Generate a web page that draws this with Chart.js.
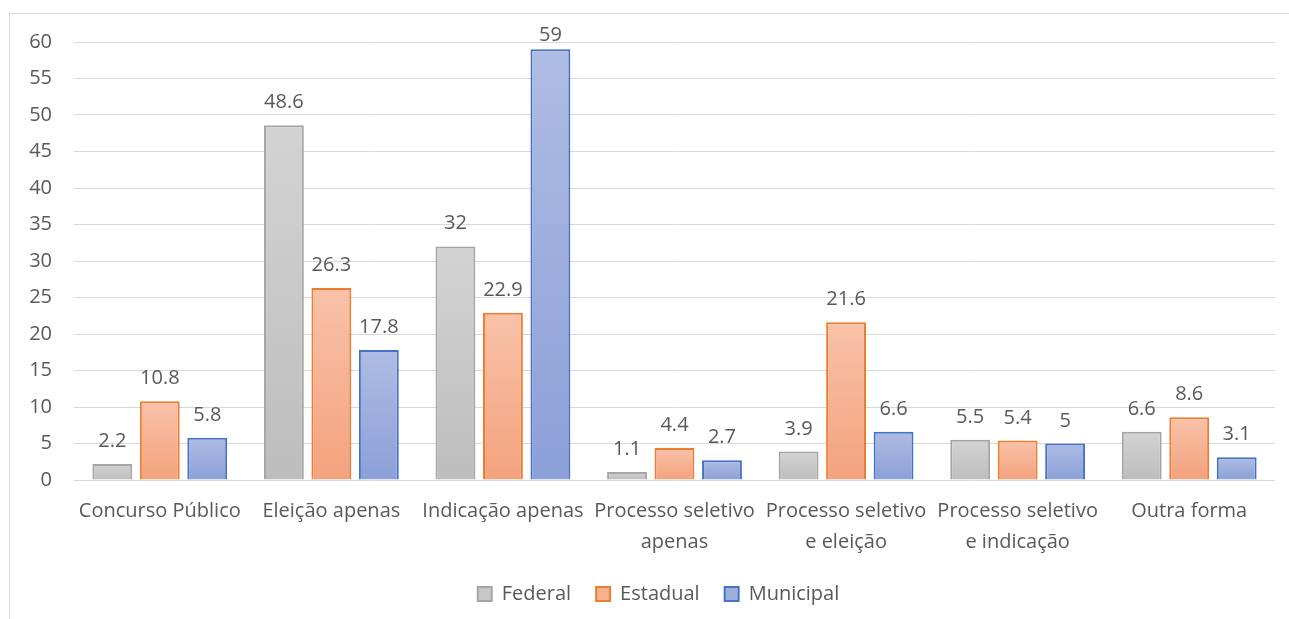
<!DOCTYPE html>
<html>
<head>
<meta charset="utf-8">
<script src="https://cdn.jsdelivr.net/npm/chart.js@4"></script>
<style>
  html, body { margin: 0; padding: 0; background: #ffffff; overflow: hidden; }
  #frame { position: absolute; left: 9px; top: 13px; width: 1400px; height: 700px; border: 1px solid #d9d9d9; box-sizing: border-box; }
  #wrap { position: absolute; left: 0; top: 0; width: 1289px; height: 619px; }
</style>
</head>
<body>
<div id="frame"></div>
<div id="wrap"><canvas id="c" width="1289" height="619"></canvas></div>
<script>
// Categories (multi-line labels are arrays)
const categories = [
  "Concurso Público",
  "Eleição apenas",
  "Indicação apenas",
  ["Processo seletivo", "apenas"],
  ["Processo seletivo", "e eleição"],
  ["Processo seletivo", "e indicação"],
  "Outra forma"
];
const seriesNames = ["Federal", "Estadual", "Municipal"];
const federal   = [2.2, 48.6, 32, 1.1, 3.9, 5.5, 6.6];
const estadual  = [10.8, 26.3, 22.9, 4.4, 21.6, 5.4, 8.6];
const municipal = [5.8, 17.8, 59, 2.7, 6.6, 5, 3.1];
const yTicks = [0, 5, 10, 15, 20, 25, 30, 35, 40, 45, 50, 55, 60];

const FONT = "'Open Sans', Lato, sans-serif";
const SIZE = 20;
const TEXT = "#595959";

// Vertical per-bar gradient, lighter at the top
function barGradient(top, bottom) {
  return function (ctx) {
    const chart = ctx.chart;
    const y = chart.scales && chart.scales.y;
    if (!y || ctx.raw === undefined || !chart.chartArea) return bottom;
    const y0 = y.getPixelForValue(ctx.raw);
    const y1 = y.getPixelForValue(0);
    if (!isFinite(y0) || !isFinite(y1) || y0 === y1) return bottom;
    const g = chart.ctx.createLinearGradient(0, y0, 0, y1);
    g.addColorStop(0, top);
    g.addColorStop(1, bottom);
    return g;
  };
}

// Value labels above each bar, kept inside the plot area
const valueLabels = {
  id: "valueLabels",
  afterDatasetsDraw(chart) {
    const c = chart.ctx;
    c.save();
    c.font = SIZE + "px " + FONT;
    c.fillStyle = TEXT;
    c.textAlign = "center";
    c.textBaseline = "alphabetic";
    chart.data.datasets.forEach((ds, di) => {
      chart.getDatasetMeta(di).data.forEach((bar, i) => {
        const base = Math.max(bar.y - 17, chart.chartArea.top - 1);
        c.fillText(String(ds.data[i]), bar.x, base);
      });
    });
    c.restore();
  }
};

// Nudge the legend row a little to the right of the canvas centre
const legendShift = {
  id: "legendShift",
  afterLayout(chart) {
    if (chart.legend) {
      chart.legend.left += 16;
      chart.legend.right += 16;
    }
  }
};

new Chart(document.getElementById("c"), {
  type: "bar",
  data: {
    labels: categories,
    datasets: [
      { label: seriesNames[0], data: federal,
        backgroundColor: barGradient("#d3d3d3", "#bdbdbd"), borderColor: "#a5a5a5", borderWidth: 2 },
      { label: seriesNames[1], data: estadual,
        backgroundColor: barGradient("#f8c2a9", "#f4a27d"), borderColor: "#ed7d31", borderWidth: 2 },
      { label: seriesNames[2], data: municipal,
        backgroundColor: barGradient("#afbce3", "#8ba0d8"), borderColor: "#4472c4", borderWidth: 2 }
    ]
  },
  options: {
    responsive: false,
    animation: false,
    devicePixelRatio: 1,
    layout: { padding: { top: 42, left: 10, right: 14, bottom: 5 } },
    datasets: { bar: { categoryPercentage: 0.83, barPercentage: 0.84 } },
    plugins: {
      tooltip: { enabled: false },
      legend: {
        position: "bottom",
        labels: {
          font: { family: FONT, size: SIZE },
          color: TEXT,
          boxWidth: 14,
          boxHeight: 14,
          padding: 25,
          generateLabels(chart) {
            const fills = ["#c8c8c8", "#f6b193", "#9dafdd"];
            return chart.data.datasets.map((ds, i) => ({
              text: ds.label, fillStyle: fills[i], strokeStyle: ds.borderColor,
              lineWidth: 2, datasetIndex: i, hidden: false, fontColor: TEXT
            }));
          }
        }
      }
    },
    scales: {
      x: {
        grid: { display: false },
        border: { display: false },
        ticks: { font: { family: FONT, size: SIZE, lineHeight: 1.55 }, color: TEXT, padding: 8, maxRotation: 0, autoSkip: false },
        afterFit(s) { s.height = 79; }
      },
      y: {
        min: 0, max: 60,
        afterBuildTicks(s) { s.ticks = yTicks.map(v => ({ value: v })); },
        grid: { color: "#d9d9d9", lineWidth: 1, drawTicks: false },
        border: { display: false },
        ticks: { font: { family: FONT, size: SIZE }, color: TEXT, padding: 22 },
        afterFit(s) { s.width = 64; }
      }
    }
  },
  plugins: [valueLabels, legendShift]
});
</script>
</body>
</html>
